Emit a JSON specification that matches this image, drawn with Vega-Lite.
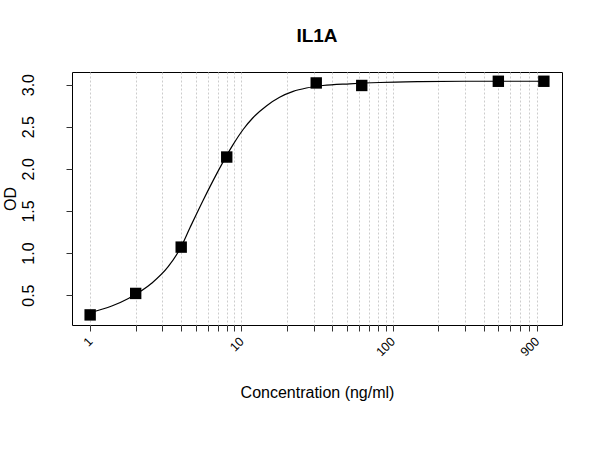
{
  "$schema": "https://vega.github.io/schema/vega-lite/v6.json",
  "autosize": {"type": "none"},
  "padding": {"left": 72, "top": 72, "right": 38, "bottom": 125},
  "width": 490,
  "height": 253,
  "background": "white",
  "title": {
    "text": "IL1A",
    "font": "Liberation Sans",
    "fontSize": 19,
    "fontWeight": "bold",
    "color": "black",
    "anchor": "middle",
    "baseline": "alphabetic",
    "offset": 11
  },
  "config": {
    "view": {"stroke": "black", "strokeWidth": 1},
    "font": "Liberation Sans"
  },
  "datasets": {
    "fit": [
      {"conc": 1, "od": 0.29},
      {"conc": 1.39, "od": 0.37},
      {"conc": 1.79, "od": 0.46},
      {"conc": 2.55, "od": 0.64},
      {"conc": 3.29, "od": 0.84},
      {"conc": 3.93, "od": 1.05},
      {"conc": 4.57, "od": 1.3},
      {"conc": 5.6, "od": 1.63},
      {"conc": 6.86, "od": 1.94},
      {"conc": 8.83, "od": 2.29},
      {"conc": 10.3, "od": 2.47},
      {"conc": 11.97, "od": 2.61},
      {"conc": 14.7, "od": 2.75},
      {"conc": 17.9, "od": 2.85},
      {"conc": 22, "od": 2.92},
      {"conc": 26.9, "od": 2.96},
      {"conc": 34.6, "od": 2.99},
      {"conc": 52, "od": 3.01},
      {"conc": 82, "od": 3.025},
      {"conc": 150, "od": 3.035},
      {"conc": 300, "od": 3.04},
      {"conc": 1000, "od": 3.04}
    ],
    "standards": [
      {"conc": 1, "od": 0.265},
      {"conc": 2, "od": 0.52},
      {"conc": 4, "od": 1.07},
      {"conc": 8, "od": 2.14},
      {"conc": 31.25, "od": 3.02},
      {"conc": 62.5, "od": 2.99},
      {"conc": 500, "od": 3.04},
      {"conc": 1000, "od": 3.04}
    ]
  },
  "encoding": {
    "x": {
      "field": "conc",
      "type": "quantitative",
      "scale": {"type": "log", "domain": [0.7586, 1318], "nice": false, "zero": false},
      "axis": {
        "title": "Concentration (ng/ml)",
        "titleFont": "Liberation Sans",
        "titleFontSize": 16,
        "titleFontWeight": "normal",
        "titleColor": "black",
        "titlePadding": 26,
        "values": [1, 2, 3, 4, 5, 6, 7, 8, 9, 10, 20, 30, 40, 50, 60, 70, 80, 90, 100, 200, 300, 400, 500, 600, 700, 800, 900],
        "labelExpr": "indexof([1, 10, 100, 900], datum.value) >= 0 ? datum.value : ''",
        "labelAngle": -45,
        "labelAlign": "right",
        "labelBaseline": "middle",
        "labelFont": "Liberation Sans",
        "labelFontSize": 12.5,
        "labelColor": "black",
        "labelPadding": 8,
        "labelOverlap": false,
        "labelFlush": false,
        "tickSize": 6,
        "tickColor": "#333333",
        "domain": false,
        "grid": true,
        "gridColor": "#cccccc",
        "gridDash": [2, 2],
        "gridWidth": 1
      }
    },
    "y": {
      "field": "od",
      "type": "quantitative",
      "scale": {"domain": [0.145, 3.15], "nice": false, "zero": false},
      "axis": {
        "title": "OD",
        "titleFont": "Liberation Sans",
        "titleFontSize": 16,
        "titleFontWeight": "normal",
        "titleColor": "black",
        "titlePadding": 2,
        "values": [0.5, 1, 1.5, 2, 2.5, 3],
        "format": ".1f",
        "labelAngle": -90,
        "labelAlign": "center",
        "labelBaseline": "bottom",
        "labelFont": "Liberation Sans",
        "labelFontSize": 16,
        "labelColor": "black",
        "labelPadding": 30,
        "tickSize": 6,
        "tickColor": "#333333",
        "domain": false,
        "grid": false
      }
    }
  },
  "layer": [
    {
      "data": {"name": "fit"},
      "mark": {"type": "line", "color": "black", "strokeWidth": 1.2, "interpolate": "monotone"}
    },
    {
      "data": {"name": "standards"},
      "mark": {"type": "point", "shape": "square", "filled": true, "color": "black", "opacity": 1, "size": 130}
    }
  ]
}
